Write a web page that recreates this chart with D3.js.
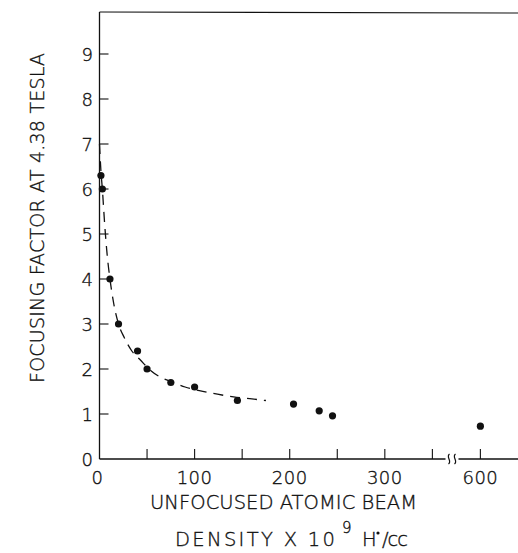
<!DOCTYPE html>
<html>
<head>
<meta charset="utf-8">
<script src="https://cdn.jsdelivr.net/npm/d3@7"></script>
<style>
  body { margin: 0; background: #fff; }
  text { font-family: "DejaVu Sans", "Liberation Sans", sans-serif; font-weight: 200; fill: #111; stroke: #111; stroke-width: 0.35px; }
</style>
</head>
<body>
<script>
// Chart size
const width = 518;
const height = 553;

// Measured points
const density = [1.5, 3, 11, 20, 40, 50, 75, 100, 145, 204, 231, 245, 600];
const focusing = [6.3, 6.0, 4.0, 3.0, 2.4, 2.0, 1.7, 1.6, 1.3, 1.22, 1.07, 0.96, 0.73];

// Dashed curve
const curveX = [0, 1.5, 3, 5.5, 8, 11, 15, 20, 26, 34, 43, 52, 64, 78, 90, 105, 124, 141, 158, 175];
const curveY = [7.0, 6.4, 6.0, 5.2, 4.55, 4.0, 3.45, 3.0, 2.7, 2.4, 2.2, 2.0, 1.82, 1.7, 1.6, 1.52, 1.44, 1.38, 1.34, 1.30];

// Ticks
const yTicks = [0, 1, 2, 3, 4, 5, 6, 7, 8, 9];
const xTicks = [0, 50, 100, 150, 200, 250, 300, 350, 600];
const xLabels = [0, 100, 200, 300, 600];

const svg = d3.select('body')
  .append('svg')
  .attr('width', width)
  .attr('height', height);

// broken axis: 368..587 squeezed into a small gap
const x = d3.scaleLinear()
  .domain([0, 368, 587, 650])
  .range([99.5, 449.5, 468, 528]);

const y = d3.scaleLinear()
  .domain([0, 10])
  .range([459, 9]);

const ink = '#111';
const x0 = x(0), yb = y(0);

// frame: left axis + top line
svg.append('line')
  .attr('x1', x0).attr('x2', x0)
  .attr('y1', yb).attr('y2', 12)
  .attr('stroke', ink).attr('stroke-width', 1.3);
svg.append('line')
  .attr('x1', x0).attr('x2', width)
  .attr('y1', 12).attr('y2', 13)
  .attr('stroke', ink).attr('stroke-width', 1.2);

// bottom axis with the break
const bx = x(368);
svg.append('line')
  .attr('x1', x0).attr('x2', bx - 4)
  .attr('y1', yb).attr('y2', yb)
  .attr('stroke', ink).attr('stroke-width', 1.3);
svg.append('line')
  .attr('x1', bx + 9).attr('x2', width)
  .attr('y1', yb).attr('y2', yb)
  .attr('stroke', ink).attr('stroke-width', 1.3);
[bx - 1, bx + 5].forEach(cx => {
  svg.append('path')
    .attr('d', `M${cx + 1},${yb - 5} C${cx - 3},${yb - 2} ${cx + 4},${yb + 2} ${cx},${yb + 5}`)
    .attr('fill', 'none').attr('stroke', ink).attr('stroke-width', 1.2);
});

// y ticks (inside)
svg.append('g')
  .selectAll('line')
  .data(yTicks.slice(1))
  .join('line')
  .attr('x1', x0).attr('x2', x0 + 9)
  .attr('y1', d => y(d)).attr('y2', d => y(d))
  .attr('stroke', ink).attr('stroke-width', 1.1);

svg.append('g')
  .attr('text-anchor', 'end')
  .selectAll('text')
  .data(yTicks)
  .join('text')
  .attr('x', 93)
  .attr('y', d => y(d) + 7)
  .style('font-size', '18px')
  .text(d => d);

// x ticks (inside)
svg.append('g')
  .selectAll('line')
  .data(xTicks.slice(1))
  .join('line')
  .attr('x1', d => x(d)).attr('x2', d => x(d))
  .attr('y1', yb).attr('y2', yb - 10)
  .attr('stroke', ink).attr('stroke-width', 1.1);

svg.append('g')
  .attr('text-anchor', 'middle')
  .selectAll('text')
  .data(xLabels)
  .join('text')
  .attr('x', d => x(d) - (d === 0 ? 2 : 0))
  .attr('y', 484)
  .style('font-size', '18px')
  .style('letter-spacing', '0.5px')
  .text(d => d);

// dashed curve
const line = d3.line()
  .x(d => x(d[0]))
  .y(d => y(d[1]))
  .curve(d3.curveMonotoneX);

svg.append('path')
  .datum(d3.zip(curveX, curveY))
  .attr('d', line)
  .attr('fill', 'none')
  .attr('stroke', ink)
  .attr('stroke-width', 1.3)
  .attr('stroke-dasharray', '10,7');

// points
svg.append('g')
  .selectAll('circle')
  .data(d3.zip(density, focusing))
  .join('circle')
  .attr('cx', d => x(d[0]))
  .attr('cy', d => y(d[1]))
  .attr('r', 3.6)
  .attr('fill', ink);

// axis titles
svg.append('text')
  .attr('transform', 'translate(44, 218) rotate(-90)')
  .attr('text-anchor', 'middle')
  .attr('textLength', 330)
  .attr('lengthAdjust', 'spacing')
  .style('font-size', '19px')
  .text('FOCUSING FACTOR AT 4.38 TESLA');

svg.append('text')
  .attr('x', 150).attr('y', 509)
  .attr('textLength', 267)
  .attr('lengthAdjust', 'spacing')
  .style('font-size', '19.5px')
  .text('UNFOCUSED ATOMIC BEAM');

const t2 = svg.append('g').style('font-size', '19.5px');
t2.append('text')
  .attr('x', 175).attr('y', 546)
  .attr('textLength', 160)
  .attr('lengthAdjust', 'spacing')
  .text('DENSITY X 10');
t2.append('text')
  .attr('x', 342).attr('y', 533)
  .style('font-size', '15px')
  .text('9');
t2.append('text')
  .attr('x', 362).attr('y', 546)
  .text('H');
t2.append('circle')
  .attr('cx', 378).attr('cy', 533).attr('r', 1.6).attr('fill', ink);
t2.append('text')
  .attr('x', 382).attr('y', 546)
  .attr('textLength', 26)
  .attr('lengthAdjust', 'spacing')
  .text('/cc');
</script>
</body>
</html>
